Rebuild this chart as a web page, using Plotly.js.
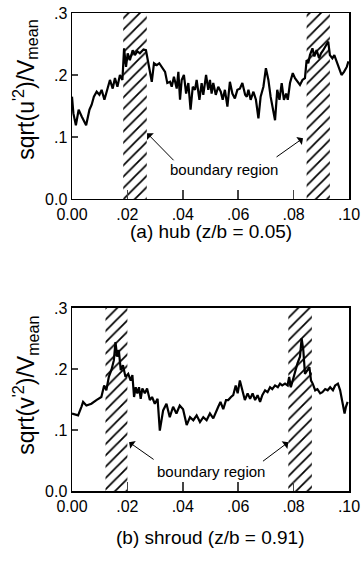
<!DOCTYPE html>
<html><head><meta charset="utf-8">
<script src="https://cdn.plot.ly/plotly-3.0.1.min.js"></script>
<style>html,body{margin:0;padding:0;background:#fff}#c{width:363px;height:561px}</style>
</head><body><div id="c"></div>
<script>
// (a) hub
var hubX = [0,.0005,.0014,.0024,.0035,.0051,.0063,.0071,.0079,.0089,.0099,.0107,.0117,.0125,.0137,.0147,.0155,.0164,.0173,.0182,.0188,.0195,.0201,.0209,.0219,.0227,.0236,.0245,.0258,.0267,.0278,.0288,.0296,.0306,.0315,.0326,.0336,.0344,.0354,.0360,.0368,.0378,.0384,.0390,.0396,.0404,.0412,.0420,.0428,.0436,.0444,.0450,.0460,.0468,.0474,.0484,.0492,.0498,.0504,.0510,.0519,.0528,.0537,.0544,.0552,.0561,.0570,.0579,.0588,.0597,.0606,.0615,.0625,.0631,.0637,.0645,.0655,.0664,.0673,.0681,.0691,.0700,.0709,.0717,.0727,.0733,.0741,.0749,.0757,.0765,.0773,.0779,.0787,.0797,.0805,.0815,.0823,.0832,.0841,.0847,.0853,.0859,.0868,.0875,.0883,.0892,.0899,.0907,.0916,.0925,.0931,.0940,.0947,.0955,.0965,.0973,.0982,.0992,.0998];
var hubY = [.165,.138,.119,.144,.133,.119,.144,.152,.165,.173,.168,.176,.160,.173,.192,.178,.195,.181,.200,.192,.243,.213,.235,.224,.240,.232,.238,.235,.241,.240,.213,.189,.219,.216,.219,.211,.205,.187,.189,.181,.197,.178,.205,.160,.192,.200,.170,.187,.144,.181,.176,.192,.160,.187,.168,.200,.176,.192,.170,.187,.168,.181,.173,.160,.176,.149,.189,.170,.162,.176,.178,.187,.168,.165,.176,.160,.173,.160,.130,.165,.181,.211,.192,.165,.144,.127,.176,.160,.187,.160,.170,.160,.187,.203,.195,.189,.184,.192,.195,.224,.219,.232,.243,.230,.240,.227,.235,.240,.246,.254,.232,.227,.232,.222,.213,.200,.205,.213,.222];
var hubHatch1 = [.0185,.0270];
var hubHatch2 = [.0847,.0931];

// (b) shroud
var shrX = [0,.0022,.0034,.0040,.0052,.0070,.0088,.0106,.0116,.0124,.0133,.0142,.0151,.0157,.0163,.0169,.0176,.0184,.0193,.0203,.0212,.0218,.0224,.0230,.0236,.0242,.0248,.0254,.0263,.0271,.0281,.0289,.0299,.0309,.0317,.0329,.0341,.0353,.0365,.0377,.0389,.0401,.0414,.0426,.0438,.0450,.0462,.0474,.0486,.0498,.0510,.0522,.0528,.0536,.0546,.0556,.0564,.0574,.0582,.0591,.0598,.0606,.0615,.0624,.0634,.0643,.0652,.0661,.0670,.0679,.0687,.0697,.0706,.0715,.0723,.0733,.0743,.0751,.0759,.0769,.0778,.0784,.0790,.0797,.0805,.0814,.0823,.0829,.0835,.0841,.0850,.0857,.0863,.0869,.0878,.0886,.0896,.0904,.0914,.0923,.0932,.0942,.0950,.0960,.0968,.0977,.0984,.0989,.0995];
var shrY = [.127,.124,.138,.146,.140,.143,.149,.154,.173,.165,.187,.198,.214,.244,.220,.231,.198,.206,.187,.192,.181,.190,.154,.170,.160,.170,.151,.168,.160,.168,.149,.154,.143,.151,.099,.132,.143,.121,.138,.127,.140,.134,.108,.121,.116,.124,.113,.121,.116,.127,.119,.130,.138,.146,.134,.149,.149,.154,.157,.173,.160,.181,.165,.149,.160,.151,.160,.149,.157,.146,.157,.165,.162,.170,.167,.173,.170,.176,.173,.176,.173,.187,.170,.181,.198,.209,.220,.250,.231,.192,.198,.203,.181,.176,.165,.167,.160,.162,.167,.165,.170,.165,.173,.176,.165,.143,.127,.138,.146];
var shrHatch1 = [.0121,.0200];
var shrHatch2 = [.0781,.0866];

var xTickVals = [0,.02,.04,.06,.08,.10];
var xTickText = ['0.00','.02','.04','.06','.08','.10'];
var yTickVals = [0,.1,.2,.3];
var yTickText = ['0.0','.1','.2','.3'];

function hatch(r, xa, ya){
  return {x:[r[0],r[1],r[1],r[0],r[0]], y:[0,0,0.3,0.3,0], xaxis:xa, yaxis:ya,
    mode:'lines', line:{width:0,color:'rgba(0,0,0,0)'}, fill:'toself',
    fillcolor:'rgba(0,0,0,0)',
    fillpattern:{shape:'/', fgcolor:'#000', bgcolor:'rgba(255,255,255,0)', size:8, solidity:0.22},
    hoverinfo:'skip', showlegend:false};
}
var F = 'Liberation Sans, Arial, sans-serif';
var data = [
  hatch(hubHatch1,'x','y'), hatch(hubHatch2,'x','y'),
  hatch(shrHatch1,'x2','y2'), hatch(shrHatch2,'x2','y2'),
  {x:hubX, y:hubY, xaxis:'x', yaxis:'y', mode:'lines', line:{color:'#000', width:2.2}, showlegend:false},
  {x:shrX, y:shrY, xaxis:'x2', yaxis:'y2', mode:'lines', line:{color:'#000', width:2.2}, showlegend:false}
];
function xax(anchor){return {range:[0,0.1], tickvals:xTickVals, ticktext:xTickText, ticks:'inside', ticklen:9, tickwidth:1.5,
  showline:true, mirror:true, linewidth:1.5, linecolor:'#000', showgrid:false, zeroline:false, anchor:anchor,
  tickfont:{family:F,size:16,color:'#000'}, domain:[0,1]};}
function yax(anchor, dom){return {range:[0,0.3], tickvals:yTickVals, ticktext:yTickText, ticks:'inside', ticklen:6, tickwidth:1.5,
  showline:true, mirror:true, linewidth:1.5, linecolor:'#000', showgrid:false, zeroline:false, anchor:anchor, domain:dom,
  tickfont:{family:F,size:16,color:'#000'}};}
var layout = {
  width:363, height:561, margin:{l:72,r:14,t:13,b:70}, paper_bgcolor:'#fff', plot_bgcolor:'#fff', showlegend:false,
  xaxis: xax('y'), yaxis: yax('x',[0.611,1]),
  xaxis2: xax('y2'), yaxis2: yax('x2',[0,0.383]),
  annotations:[
    {xref:'paper', yref:'paper', x:0.5, y:0.543, text:'(a) hub (z/b = 0.05)', showarrow:false, font:{family:F,size:19,color:'#000'}, xanchor:'center', yanchor:'middle'},
    {xref:'paper', yref:'paper', x:0.5, y:-0.098, text:'(b) shroud (z/b = 0.91)', showarrow:false, font:{family:F,size:19,color:'#000'}, xanchor:'center', yanchor:'middle'},
    {xref:'paper', yref:'paper', x:-0.17, y:0.839, textangle:-90, text:"sqrt(u<sup>'2</sup>)/V<sub>mean</sub>", showarrow:false, font:{family:F,size:23,color:'#000'}, xanchor:'center', yanchor:'middle'},
    {xref:'paper', yref:'paper', x:-0.17, y:0.222, textangle:-90, text:"sqrt(v<sup>'2</sup>)/V<sub>mean</sub>", showarrow:false, font:{family:F,size:23,color:'#000'}, xanchor:'center', yanchor:'middle'},
    {xref:'x', yref:'y', x:.0549, y:.047, text:'boundary region', showarrow:false, font:{family:F,size:15,color:'#000'}},
    {xref:'x', yref:'y', x:.0271, y:.106, axref:'x', ayref:'y', ax:.0372, ay:.060, text:'', showarrow:true, arrowhead:1, arrowsize:1.6, arrowwidth:1, arrowcolor:'#000'},
    {xref:'x', yref:'y', x:.0834, y:.098, axref:'x', ayref:'y', ax:.0733, ay:.066, text:'', showarrow:true, arrowhead:1, arrowsize:1.6, arrowwidth:1, arrowcolor:'#000'},
    {xref:'x2', yref:'y2', x:.0503, y:.032, text:'boundary region', showarrow:false, font:{family:F,size:15,color:'#000'}},
    {xref:'x2', yref:'y2', x:.0206, y:.080, axref:'x2', ayref:'y2', ax:.0300, ay:.050, text:'', showarrow:true, arrowhead:1, arrowsize:1.6, arrowwidth:1, arrowcolor:'#000'},
    {xref:'x2', yref:'y2', x:.0781, y:.080, axref:'x2', ayref:'y2', ax:.0684, ay:.047, text:'', showarrow:true, arrowhead:1, arrowsize:1.6, arrowwidth:1, arrowcolor:'#000'}
  ]
};
Plotly.newPlot('c', data, layout, {displayModeBar:false, staticPlot:true});
</script></body></html>
